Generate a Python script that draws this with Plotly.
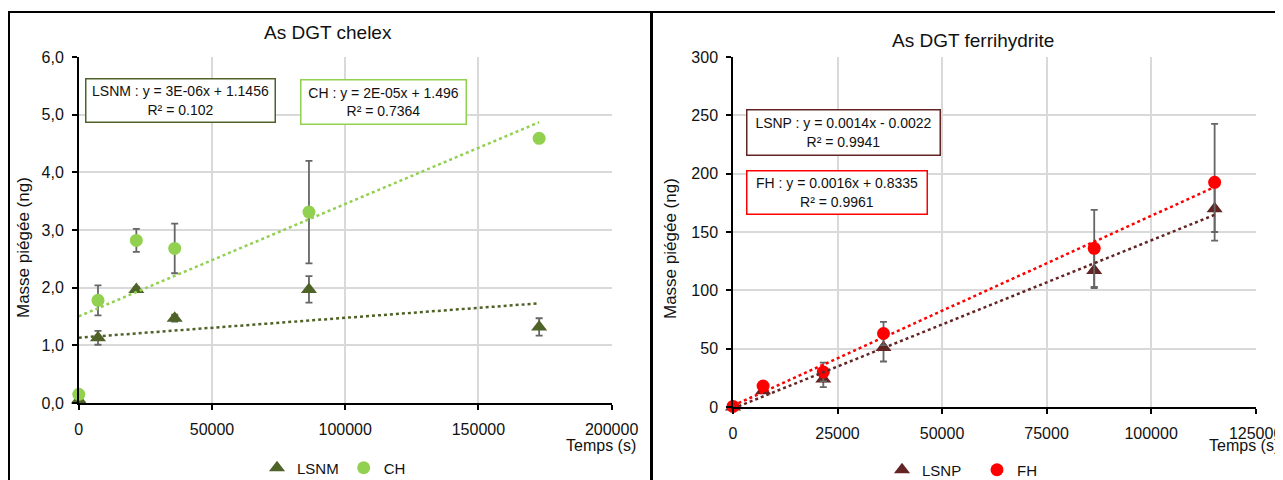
import numpy as np
import plotly.graph_objects as go

# ---------------- data ----------------
# Left chart: As DGT chelex
t_chelex = [0, 7200, 21600, 36000, 86400, 172800]
lsnm = [0.05, 1.13, 1.97, 1.47, 1.97, 1.32]
lsnm_err = [0, 0.12, 0.04, 0.06, 0.23, 0.15]
ch = [0.15, 1.78, 2.82, 2.68, 3.31, 4.59]
ch_err = [0, 0.26, 0.20, 0.43, 0.89, 0]

# Right chart: As DGT ferrihydrite
t_ferri = [0, 7200, 21600, 36000, 86400, 115200]
lsnp = [0, 14, 24, 51, 117, 170]
lsnp_err = [0, 2, 7, 12, 15, 20]
fh = [0.5, 18, 30, 63, 136, 192.6]
fh_err = [0, 2, 8, 10, 33, 50]

left_xticks = [0, 50000, 100000, 150000, 200000]
right_xticks = [0, 25000, 50000, 75000, 100000, 125000]

C_LSNM = "#4F6228"
C_CH = "#92D050"
C_LSNP = "#632523"
C_FH = "#FF0000"
C_ERR = "#666666"
GRID = "#D9D9D9"
FONT = "Liberation Sans, Arial, sans-serif"

OFF = 8  # page body margin
W, H = 1283 - OFF, 480 - OFF


def px(x):
    return (x - OFF) / W


def py(y):
    return 1 - (y - OFF) / H


def trend(x, y):
    x = np.asarray(x, float)
    y = np.asarray(y, float)
    k, b = np.polyfit(x, y, 1)
    xs = np.array([x.min(), x.max()])
    return xs, k * xs + b


fig = go.Figure()


def add_series(x, y, err, name, color, symbol, size, xa, ya, legend):
    fig.add_trace(go.Scatter(
        x=x, y=y, mode="markers", name=name,
        marker=dict(color=color, size=size, symbol=symbol),
        error_y=dict(type="data", array=err, visible=True, color=C_ERR,
                     thickness=1.8, width=3.5),
        xaxis=xa, yaxis=ya, legend=legend, cliponaxis=False,
    ))


def add_trend(x, y, color, xa, ya):
    xs, ys = trend(x, y)
    fig.add_trace(go.Scatter(
        x=xs, y=ys, mode="lines", showlegend=False, hoverinfo="skip",
        line=dict(color=color, width=2.5, dash="dot"),
        xaxis=xa, yaxis=ya,
    ))


add_series(t_chelex, lsnm, lsnm_err, "LSNM", C_LSNM, "triangle-up", 14, "x", "y", "legend")
add_series(t_chelex, ch, ch_err, "CH", C_CH, "circle", 13, "x", "y", "legend")
add_trend(t_chelex, lsnm, C_LSNM, "x", "y")
add_trend(t_chelex, ch, C_CH, "x", "y")

add_series(t_ferri, lsnp, lsnp_err, "LSNP", C_LSNP, "triangle-up", 14, "x2", "y2", "legend2")
add_series(t_ferri, fh, fh_err, "FH", C_FH, "circle", 13, "x2", "y2", "legend2")
add_trend(t_ferri, lsnp, C_LSNP, "x2", "y2")
add_trend(t_ferri, fh, C_FH, "x2", "y2")

axis_common = dict(
    showgrid=True, gridcolor=GRID, gridwidth=1.5,
    showline=True, linecolor="black", linewidth=1.5,
    ticks="outside", ticklen=5, tickcolor="black", tickwidth=1.5,
    zeroline=False, automargin=False,
    tickfont=dict(family=FONT, size=16, color="#111111"),
)

fig.update_layout(
    width=W, height=H, autosize=False,
    margin=dict(l=0, r=0, t=0, b=0, pad=0, autoexpand=False),
    paper_bgcolor="white", plot_bgcolor="white",
    separators=", ",
    font=dict(family=FONT, size=16, color="#111111"),
    xaxis=dict(domain=[px(78.8), px(611.6)], range=[0, 200000], anchor="y",
               tickvals=left_xticks, tickformat="d", ticklabelstandoff=6,
               **axis_common),
    yaxis=dict(domain=[py(403), py(57)], range=[0, 6], anchor="x",
               dtick=1, tickformat=".1f", ticklabelstandoff=5, **axis_common),
    xaxis2=dict(domain=[px(733), px(1255.6)], range=[0, 125000], anchor="y2",
                tickvals=right_xticks, tickformat="d", ticklabelstandoff=6,
                **axis_common),
    yaxis2=dict(domain=[py(407), py(57)], range=[0, 300], anchor="x2",
                dtick=50, ticklabelstandoff=5, **axis_common),
    legend=dict(orientation="h", x=px(334), xanchor="center", y=py(468),
                yanchor="middle", bgcolor="rgba(0,0,0,0)",
                font=dict(family=FONT, size=15), itemwidth=30,
                tracegroupgap=0),
    legend2=dict(orientation="h", x=px(977), xanchor="center", y=py(470),
                 yanchor="middle", bgcolor="rgba(0,0,0,0)",
                 font=dict(family=FONT, size=15), itemwidth=30,
                 entrywidth=50),
)

annos = [
    dict(text="As DGT chelex", x=px(328), y=py(33), size=19),
    dict(text="As DGT ferrihydrite", x=px(973), y=py(40), size=19),
]
for a in annos:
    fig.add_annotation(text=a["text"], x=a["x"], y=a["y"], xref="paper", yref="paper",
                       showarrow=False, xanchor="center", yanchor="middle",
                       font=dict(family=FONT, size=a["size"], color="#111111"))

for xx in (23, 670):
    fig.add_annotation(text="Masse piégée (ng)", x=px(xx), y=py(248), xref="paper",
                       yref="paper", showarrow=False, textangle=-90,
                       xanchor="center", yanchor="middle",
                       font=dict(family=FONT, size=17, color="#111111"))

for xx in (638, 1281):
    fig.add_annotation(text="Temps (s)", x=px(xx), y=py(445), xref="paper",
                       yref="paper", showarrow=False, xanchor="right",
                       yanchor="middle",
                       font=dict(family=FONT, size=16, color="#111111"))

boxes = [
    ("LSNM : y = 3E-06x + 1.1456<br>R² = 0.102", 85, 78, 191, 45, C_LSNM),
    ("CH : y = 2E-05x + 1.496<br>R² = 0.7364", 300, 79, 167, 46, C_CH),
    ("LSNP : y = 0.0014x - 0.0022<br>R² = 0.9941", 746, 109, 195, 47, C_LSNP),
    ("FH : y = 0.0016x + 0.8335<br>R² = 0.9961", 746, 170, 182, 45, C_FH),
]
for text, x0, y0, w, h, col in boxes:
    fig.add_annotation(text=text, x=px(x0), y=py(y0), xref="paper", yref="paper",
                       showarrow=False, xanchor="left", yanchor="top",
                       width=w - 3, height=h - 3, align="center", valign="middle",
                       bordercolor=col, borderwidth=1.5, borderpad=0,
                       bgcolor="white",
                       font=dict(family=FONT, size=14, color="#111111"))

# panel frames
fig.add_shape(type="rect", xref="paper", yref="paper", x0=px(9), x1=px(651),
              y0=-0.2, y1=py(12), line=dict(color="black", width=2))
fig.add_shape(type="rect", xref="paper", yref="paper", x0=px(652), x1=1.2,
              y0=-0.2, y1=py(12), line=dict(color="black", width=2))

fig.write_html("out.html")
